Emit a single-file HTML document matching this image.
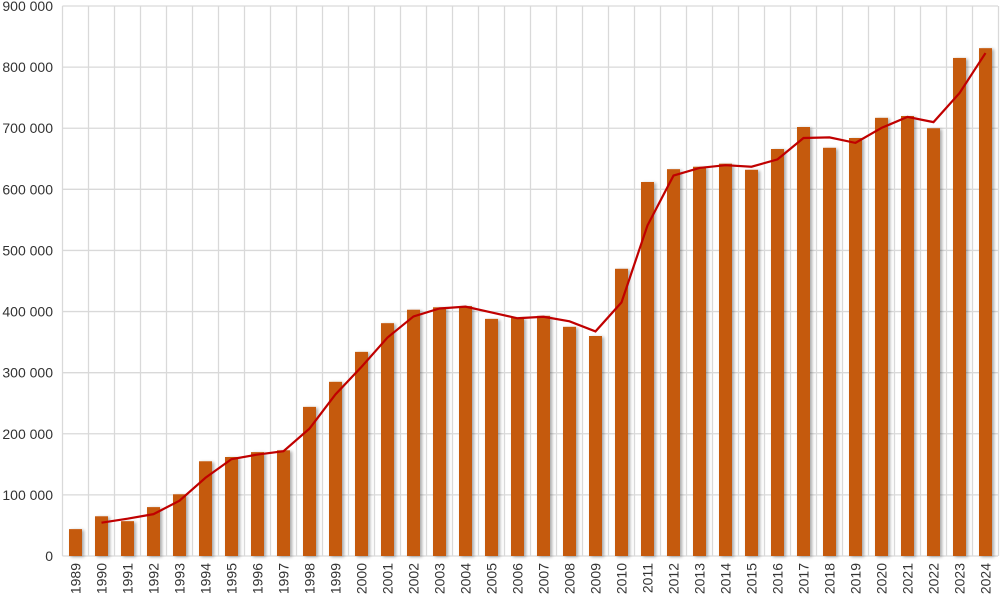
<!DOCTYPE html>
<html><head><meta charset="utf-8"><style>body{margin:0;background:#fff}svg{display:block}</style></head>
<body>
<div id="c"></div>
<script>
const v=[44,65,57,80,101,155,162,170,173,244,285,334,381,403,407,409,388,390,393,375,360,470,612,633,637,642,632,666,702,668,684,717,720,700,815,831];
const X0=62.5,W=26,Y0=556,S=550/900;
let s='<svg width="1000" height="597" xmlns="http://www.w3.org/2000/svg" font-family="Liberation Sans, sans-serif">';
s+='<defs><filter id="sh" x="-50%" y="-10%" width="200%" height="120%"><feGaussianBlur in="SourceAlpha" stdDeviation="1.5"/><feOffset dx="2" dy="1"/><feComponentTransfer><feFuncA type="linear" slope="0.35"/></feComponentTransfer><feMerge><feMergeNode/><feMergeNode in="SourceGraphic"/></feMerge></filter></defs>';
for(let i=0;i<=9;i++){const y=Y0-i*100*S;s+=`<line x1="${X0}" x2="998" y1="${y}" y2="${y}" stroke="#d9d9d9" stroke-width="1.3"/>`;
s+=`<text x="53" y="${y+5}" text-anchor="end" font-size="14" fill="#333">${i==0?'0':i*100+' 000'}</text>`;}
for(let i=0;i<=36;i++){const x=X0+i*W;s+=`<line x1="${x}" x2="${x}" y1="6" y2="${Y0}" stroke="#d9d9d9" stroke-width="1.3"/>`;}
s+='<g filter="url(#sh)">';
v.forEach((d,i)=>{const h=d*S;s+=`<rect x="${X0+i*W+6.5}" y="${Y0-h}" width="13" height="${h}" fill="#c55a11"/>`;});
s+='</g>';
let p=[];for(let i=1;i<v.length;i++){p.push((X0+i*W+13)+','+(Y0-(v[i]+v[i-1])/2*S));}
s+=`<polyline points="${p.join(' ')}" fill="none" stroke="#c00000" stroke-width="2.2"/>`;
v.forEach((d,i)=>{const x=X0+i*W+13+5;s+=`<text transform="translate(${x},563) rotate(-90)" text-anchor="end" font-size="14" fill="#333">${1989+i}</text>`;});
s+='</svg>';
document.getElementById('c').innerHTML=s;
</script>
</body></html>
